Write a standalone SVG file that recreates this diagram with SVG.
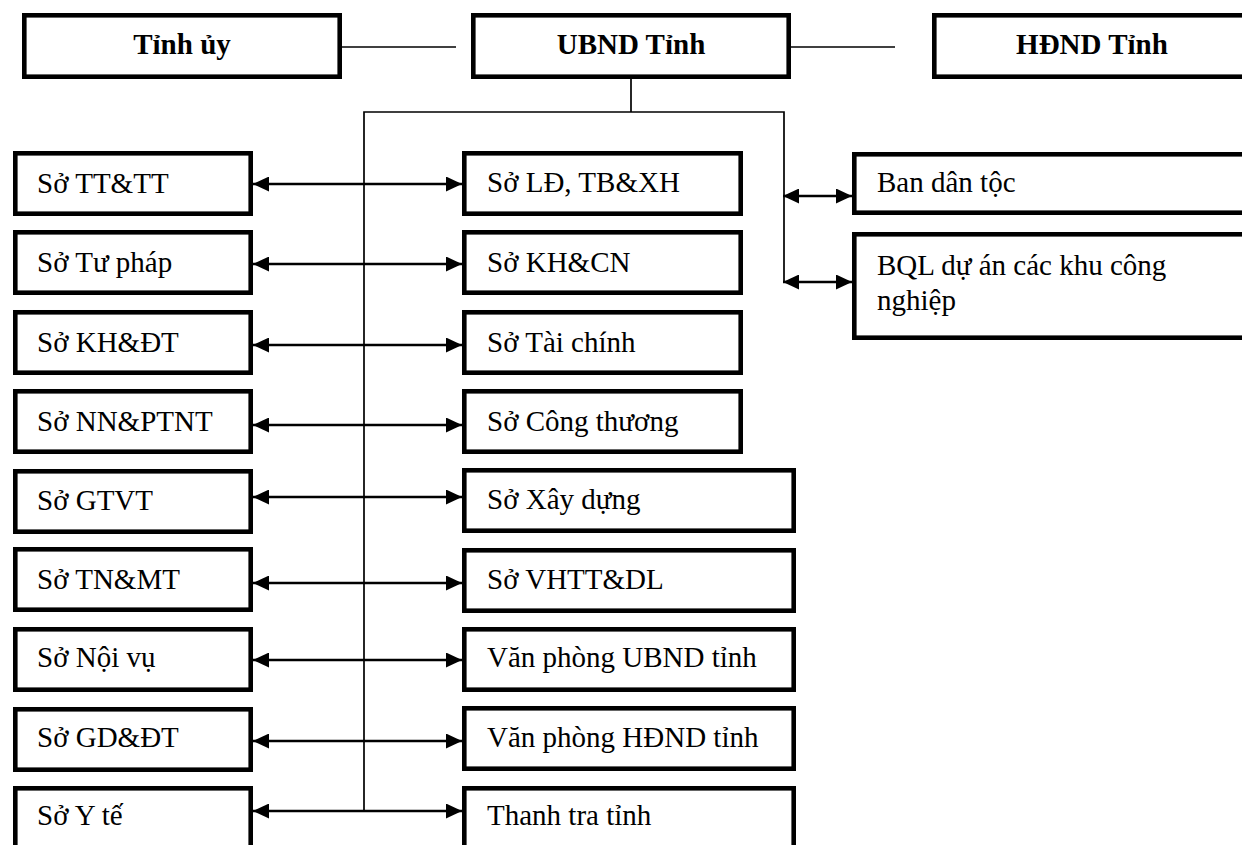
<svg xmlns="http://www.w3.org/2000/svg" width="1242" height="845" viewBox="0 0 1242 845">
<style>
.box{fill:#fff;stroke:#000;stroke-width:4.6}
.b{font-weight:bold;text-anchor:middle}
.ln{stroke:#000;stroke-width:1.7;fill:none}
.ar{stroke:#000;stroke-width:2.6;fill:none;marker-start:url(#ah);marker-end:url(#ah)}
</style>
<defs>
<marker id="ah" markerUnits="userSpaceOnUse" markerWidth="16" markerHeight="15" refX="16" refY="7.5" orient="auto-start-reverse" viewBox="0 0 16 15">
<path d="M0,0 L16,7.5 L0,15 z" fill="#000"/>
</marker>
</defs>
<rect width="1242" height="845" fill="#fff"/>
<g id="connectors">
<line class="ln" x1="342" y1="47" x2="456" y2="47"/>
<line class="ln" x1="790" y1="47" x2="895" y2="47"/>
<polyline class="ln" points="631,78 631,112"/>
<polyline class="ln" points="364,811 364,112 784,112 784,282"/>
<line class="ar" x1="253" y1="184" x2="462" y2="184"/>
<line class="ar" x1="253" y1="264" x2="462" y2="264"/>
<line class="ar" x1="253" y1="345" x2="462" y2="345"/>
<line class="ar" x1="253" y1="425" x2="462" y2="425"/>
<line class="ar" x1="253" y1="497" x2="462" y2="497"/>
<line class="ar" x1="253" y1="583" x2="462" y2="583"/>
<line class="ar" x1="253" y1="660" x2="462" y2="660"/>
<line class="ar" x1="253" y1="741" x2="462" y2="741"/>
<line class="ar" x1="253" y1="811" x2="462" y2="811"/>
<line class="ar" x1="783" y1="196" x2="852" y2="196"/>
<line class="ar" x1="783" y1="282" x2="852" y2="282"/>
</g>
<g font-family="Liberation Serif, Tinos, Times New Roman, Nimbus Roman, DejaVu Serif, serif" font-size="29" fill="#000">
<g id="tinh-uy"><rect class="box" x="24.3" y="15.3" width="315.4" height="61.4"/><text class="b" x="182" y="54">Tỉnh ủy</text></g>
<g id="ubnd"><rect class="box" x="473.3" y="15.3" width="315.4" height="61.4"/><text class="b" x="631" y="54">UBND Tỉnh</text></g>
<g id="hdnd"><rect class="box" x="934.3" y="15.3" width="315.4" height="61.4"/><text class="b" x="1092" y="54">HĐND Tỉnh</text></g>

<g id="so-tttt"><rect class="box" x="15.3" y="153.3" width="235.4" height="60.4"/><text x="37" y="193">Sở TT&amp;TT</text></g>
<g id="so-tu-phap"><rect class="box" x="15.3" y="232.3" width="235.4" height="60.4"/><text x="37" y="272">Sở Tư pháp</text></g>
<g id="so-khdt"><rect class="box" x="15.3" y="312.3" width="235.4" height="60.4"/><text x="37" y="352">Sở KH&amp;ĐT</text></g>
<g id="so-nnptnt"><rect class="box" x="15.3" y="391.3" width="235.4" height="60.4"/><text x="37" y="431">Sở NN&amp;PTNT</text></g>
<g id="so-gtvt"><rect class="box" x="15.3" y="471.3" width="235.4" height="60.4"/><text x="37" y="510">Sở GTVT</text></g>
<g id="so-tnmt"><rect class="box" x="15.3" y="549.3" width="235.4" height="60.4"/><text x="37" y="589">Sở TN&amp;MT</text></g>
<g id="so-noi-vu"><rect class="box" x="15.3" y="629.3" width="235.4" height="60.4"/><text x="37" y="667">Sở Nội vụ</text></g>
<g id="so-gddt"><rect class="box" x="15.3" y="709.3" width="235.4" height="60.4"/><text x="37" y="747">Sở GD&amp;ĐT</text></g>
<g id="so-y-te"><rect class="box" x="15.3" y="788.3" width="235.4" height="70"/><text x="37" y="825">Sở Y tế</text></g>

<g id="so-ldtbxh"><rect class="box" x="464.3" y="153.3" width="276.4" height="60.4"/><text x="487" y="192">Sở LĐ, TB&amp;XH</text></g>
<g id="so-khcn"><rect class="box" x="464.3" y="232.3" width="276.4" height="60.4"/><text x="487" y="272">Sở KH&amp;CN</text></g>
<g id="so-tai-chinh"><rect class="box" x="464.3" y="312.3" width="276.4" height="60.4"/><text x="487" y="352">Sở Tài chính</text></g>
<g id="so-cong-thuong"><rect class="box" x="464.3" y="391.3" width="276.4" height="60.4"/><text x="487" y="431">Sở Công thương</text></g>
<g id="so-xay-dung"><rect class="box" x="464.3" y="470.3" width="329.4" height="60.4"/><text x="487" y="509">Sở Xây dựng</text></g>
<g id="so-vhttdl"><rect class="box" x="464.3" y="550.3" width="329.4" height="60.4"/><text x="487" y="589">Sở VHTT&amp;DL</text></g>
<g id="vp-ubnd"><rect class="box" x="464.3" y="629.3" width="329.4" height="60.4"/><text x="487" y="667">Văn phòng UBND tỉnh</text></g>
<g id="vp-hdnd"><rect class="box" x="464.3" y="708.3" width="329.4" height="60.4"/><text x="487" y="747">Văn phòng HĐND tỉnh</text></g>
<g id="thanh-tra"><rect class="box" x="464.3" y="788.3" width="329.4" height="70"/><text x="487" y="825">Thanh tra tỉnh</text></g>

<g id="ban-dan-toc"><rect class="box" x="854.3" y="154.3" width="400" height="58.4"/><text x="877" y="192">Ban dân tộc</text></g>
<g id="bql"><rect class="box" x="854.3" y="234.3" width="400" height="103.4"/><text x="877" y="275">BQL dự án các khu công</text><text x="877" y="310">nghiệp</text></g>
</g>
</svg>
